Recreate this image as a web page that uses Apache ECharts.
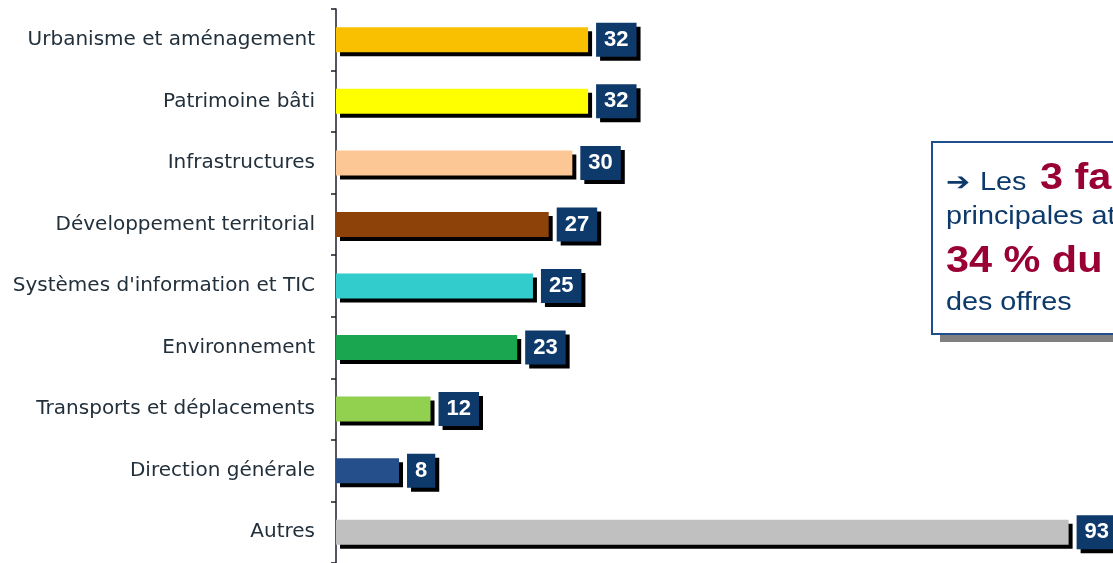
<!DOCTYPE html>
<html>
<head>
<meta charset="utf-8">
<script src="https://cdn.jsdelivr.net/npm/echarts@6/dist/echarts.min.js"></script>
<style>
html, body { margin: 0; padding: 0; background: #fff; }
#main { width: 1113px; height: 563px; }
</style>
</head>
<body>
<div id="main"></div>
<script>
// familles de métiers (du haut vers le bas)
var categories = [
	"Urbanisme et aménagement",
	"Patrimoine bâti",
	"Infrastructures",
	"Développement territorial",
	"Systèmes d'information et TIC",
	"Environnement",
	"Transports et déplacements",
	"Direction générale",
	"Autres"
];
var values = [32, 32, 30, 27, 25, 23, 12, 8, 93];
var barColors = ["#f8c000", "#ffff00", "#fcc794", "#8c4208", "#33cccc", "#1aa650", "#92d050", "#254f8b", "#c0c0c0"];

var navy = "#0d3a6b";
var crimson = "#990033";

var myChart = echarts.init(document.getElementById('main'));

var seriesData = [];
for (var i = 0; i < values.length; i++) {
	seriesData.push({
		value: values[i],
		itemStyle: { color: barColors[i] }
	});
}

var option = {
	animation: false,
	grid: {
		left: 336,
		top: 9,
		width: 772,
		height: 559
	},
	xAxis: {
		type: 'value',
		min: 0,
		max: 98,
		show: false
	},
	yAxis: {
		type: 'category',
		data: categories,
		inverse: true,
		axisLine: {
			show: true,
			lineStyle: { color: '#1c1c2c', width: 1.5 }
		},
		axisTick: {
			show: true,
			length: 5,
			lineStyle: { color: '#1c1c2c', width: 1.5 }
		},
		axisLabel: {
			margin: 21,
			color: '#22303c',
			fontFamily: 'DejaVu Sans',
			fontSize: 20
		}
	},
	series: [{
		type: 'bar',
		data: seriesData,
		barWidth: 25,
		itemStyle: {
			shadowColor: '#000',
			shadowBlur: 0,
			shadowOffsetX: 4,
			shadowOffsetY: 4
		},
		label: {
			show: true,
			position: 'right',
			distance: 8,
			color: '#fff',
			fontFamily: 'Arial',
			fontWeight: 'bold',
			fontSize: 22,
			lineHeight: 24,
			backgroundColor: navy,
			padding: [5, 8, 5, 8],
			shadowColor: '#000',
			shadowBlur: 0,
			shadowOffsetX: 4,
			shadowOffsetY: 4
		}
	}],
	graphic: [{
		type: 'group',
		children: [{
			// ombre grise du cadre
			type: 'rect',
			shape: { x: 940, y: 150, width: 220, height: 192 },
			style: { fill: '#808080' }
		}, {
			type: 'rect',
			shape: { x: 932, y: 142, width: 220, height: 192 },
			style: {
				fill: '#fff',
				stroke: '#1f4e8c',
				lineWidth: 2
			}
		}, {
			type: 'text', x: 946, y: 183, scaleX: 1.15,
			style: { text: '➔', font: 'bold 25px "DejaVu Sans"', fill: navy, verticalAlign: 'middle' }
		}, {
			type: 'text', x: 980, y: 183, scaleX: 1.15,
			style: { text: 'Les', font: '25px "Liberation Sans"', fill: navy, verticalAlign: 'middle' }
		}, {
			type: 'text', x: 1040, y: 179, scaleX: 1.15,
			style: { text: '3 familles', font: 'bold 36px "Liberation Sans"', fill: crimson, verticalAlign: 'middle' }
		}, {
			type: 'text', x: 946, y: 217, scaleX: 1.15,
			style: { text: 'principales atteignent', font: '25px "Liberation Sans"', fill: navy, verticalAlign: 'middle' }
		}, {
			type: 'text', x: 946, y: 262, scaleX: 1.15,
			style: { text: '34 % du total', font: 'bold 36px "Liberation Sans"', fill: crimson, verticalAlign: 'middle' }
		}, {
			type: 'text', x: 946, y: 303, scaleX: 1.15,
			style: { text: 'des offres', font: '25px "Liberation Sans"', fill: navy, verticalAlign: 'middle' }
		}]
	}]
};
myChart.setOption(option);
</script>
</body>
</html>
